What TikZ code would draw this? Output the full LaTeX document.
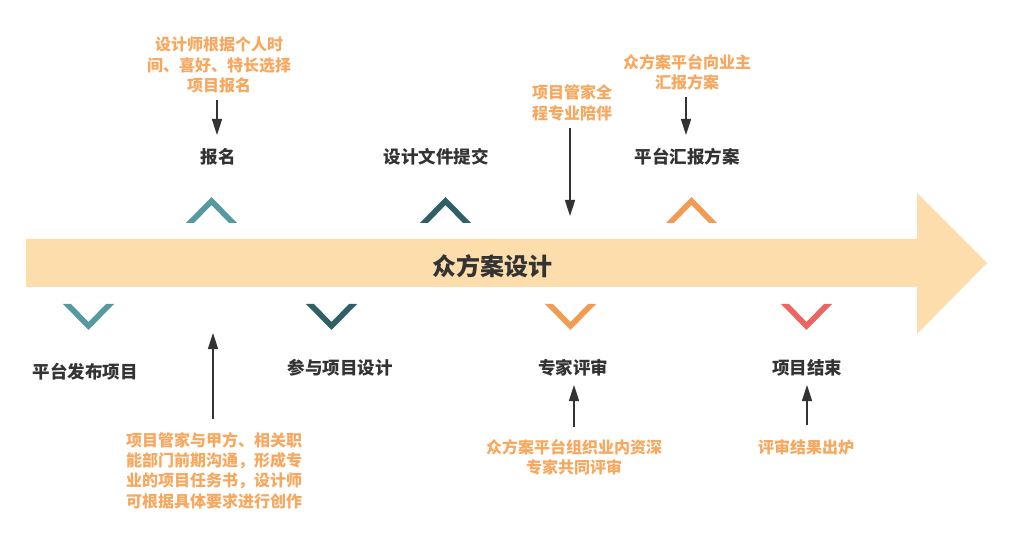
\documentclass[tikz,border=0pt]{standalone}
\usepackage{fontspec}
\newfontfamily\cjk{Noto Sans CJK SC}
\usetikzlibrary{arrows.meta}
\definecolor{band}{HTML}{FDDDAB}
\definecolor{tealL}{HTML}{559AA0}
\definecolor{tealD}{HTML}{2E6066}
\definecolor{orng}{HTML}{F19C52}
\definecolor{redc}{HTML}{EF6461}
\definecolor{note}{HTML}{F7A75E}
\definecolor{dark}{HTML}{333333}
\tikzset{
  lbl/.style={text=dark, font=\cjk\bfseries\fontsize{17.5}{20}\selectfont, inner sep=0pt},
  notetext/.style={text=note, font=\cjk\bfseries\fontsize{16}{20.3}\selectfont, align=center, inner sep=0pt},
  conn/.style={draw=dark, line width=1.6pt, -{Triangle[length=16pt,width=10pt]}},
  chevup/.pic={\fill (-25.5,13) -- (0,-13) -- (25.5,13) -- (17.5,13) -- (0,-5) -- (-17.5,13) -- cycle;},
  chevdown/.pic={\fill (-25.5,-13) -- (0,13) -- (25.5,-13) -- (17.5,-13) -- (0,5) -- (-17.5,-13) -- cycle;}
}
\begin{document}
\begin{tikzpicture}[x=1pt,y=-1pt]
\useasboundingbox (0,0) rectangle (1012,537);
% main arrow
\fill[band] (26,239) -- (917,239) -- (917,193) -- (987,263) -- (917,334) -- (917,287) -- (26,287) -- cycle;
\node[text=dark, font=\cjk\bfseries\fontsize{24}{26}\selectfont, inner sep=0pt] (title) at (492.5,266) {众方案设计};
% chevrons
\pic[tealL] at (211.5,210) {chevup};
\pic[tealD] at (445.5,210) {chevup};
\pic[orng] at (691.5,210) {chevup};
\pic[tealL] at (88.5,317) {chevdown};
\pic[tealD] at (331.5,317) {chevdown};
\pic[orng] at (570.5,317) {chevdown};
\pic[redc] at (806.5,317) {chevdown};
% labels
\node[lbl] (baoming) at (218,157) {报名};
\node[lbl] (tijiao) at (436,157) {设计文件提交};
\node[lbl] (huibao) at (687,157) {平台汇报方案};
\node[lbl] (fabu) at (85,372) {平台发布项目};
\node[lbl] (canyu) at (340,368) {参与项目设计};
\node[lbl] (pingshen) at (573,368) {专家评审};
\node[lbl] (jieshu) at (807,368) {项目结束};
% notes
\node[notetext] (n1) at (219,65) {设计师根据个人时\\间、喜好、特长选择\\项目报名};
\node[notetext] (n2) at (572,103) {项目管家全\\程专业陪伴};
\node[notetext] (n3) at (687,72.5) {众方案平台向业主\\汇报方案};
\node[notetext] (n4) at (214,470.5) {项目管家与甲方、相关职\\能部门前期沟通，形成专\\业的项目任务书，设计师\\可根据具体要求进行创作};
\node[notetext] (n5) at (574,457.5) {众方案平台组织业内资深\\专家共同评审};
\node[notetext] (n6) at (806,447) {评审结果出炉};
% connector ends
\coordinate (a1s) at (217,100); \coordinate (a1e) at (217,135);
\coordinate (a2s) at (570,128); \coordinate (a2e) at (570,216);
\coordinate (a3s) at (686,97);  \coordinate (a3e) at (686,135);
\coordinate (a4s) at (213,419); \coordinate (a4e) at (213,333);
\coordinate (a5s) at (574,427); \coordinate (a5e) at (574,385);
\coordinate (a6s) at (807,425); \coordinate (a6e) at (807,385);
\draw[conn] (a1s) -- (a1e);
\draw[conn] (a2s) -- (a2e);
\draw[conn] (a3s) -- (a3e);
\draw[conn] (a4s) -- (a4e);
\draw[conn] (a5s) -- (a5e);
\draw[conn] (a6s) -- (a6e);
\end{tikzpicture}
\end{document}
